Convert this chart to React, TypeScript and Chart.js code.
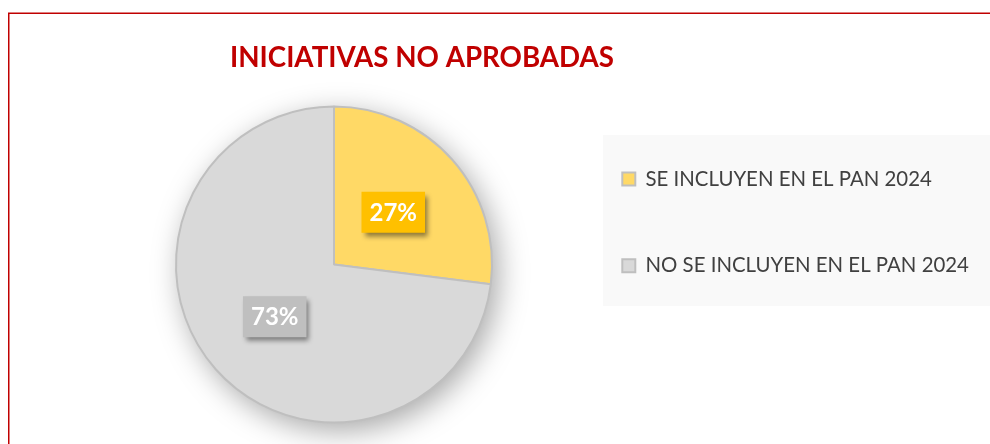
import React, { useEffect, useRef } from "react";
import { Chart, registerables } from "chart.js";

Chart.register(...registerables);

const categories = ["SE INCLUYEN EN EL PAN 2024", "NO SE INCLUYEN EN EL PAN 2024"];
const values = [27, 73];
const sliceColors = ["#FFD966", "#D9D9D9"];
const labelBoxColors = ["#FFC000", "#BFBFBF"];
const titleText = "INICIATIVAS NO APROBADAS";

const W = 990;
const H = 444;

export default function App() {
  const ref = useRef<HTMLCanvasElement | null>(null);

  useEffect(() => {
    const canvas = ref.current;
    if (!canvas) return;

    const legendFontSize = 20.4;
    const legendPad = 66.3;
    const boxW = 13;
    const mctx = document.createElement("canvas").getContext("2d")!;
    mctx.font = `normal ${legendFontSize}px Lato`;
    const textW = Math.max(...categories.map((c) => mctx.measureText(c).width));
    const legendLeft = 556;
    const legendWidth = legendPad + boxW + legendFontSize / 2 + textW + 10;
    const padRight = W - legendLeft - legendWidth;
    const pieCx = 334;
    const padLeft = 2 * pieCx - legendLeft;

    const total = values.reduce((a, b) => a + b, 0);

    const backgroundPlugin = {
      id: "bg",
      beforeDraw(chart: any) {
        const ctx = chart.ctx;
        ctx.save();
        ctx.fillStyle = "#FFFFFF";
        ctx.fillRect(0, 0, W, H);
        ctx.strokeStyle = "#C00000";
        ctx.lineWidth = 1.5;
        ctx.strokeRect(8.75, 13.25, 2000, 2000);
        ctx.fillStyle = "#F9F9F9";
        ctx.fillRect(603, 135, 387, 171);
        // title
        ctx.fillStyle = "#C00000";
        ctx.font = "bold 27.7px Lato";
        ctx.textAlign = "center";
        ctx.textBaseline = "alphabetic";
        ctx.fillText(titleText, 422, 67);
        ctx.restore();
      },
    };

    const pieShadowPlugin = {
      id: "pieShadow",
      beforeDatasetsDraw(chart: any) {
        const meta = chart.getDatasetMeta(0);
        const arc = meta.data[0];
        if (!arc) return;
        const { x, y, outerRadius } = arc.getProps(["x", "y", "outerRadius"], true);
        const ctx = chart.ctx;
        ctx.save();
        ctx.shadowColor = "rgba(0,0,0,0.35)";
        ctx.shadowBlur = 30;
        ctx.shadowOffsetX = 6;
        ctx.shadowOffsetY = 8;
        ctx.beginPath();
        ctx.arc(x, y, outerRadius, 0, Math.PI * 2);
        ctx.fillStyle = "#D9D9D9";
        ctx.fill();
        ctx.restore();
      },
    };

    const labelPlugin = {
      id: "sliceLabels",
      afterDatasetsDraw(chart: any) {
        const ctx = chart.ctx;
        const meta = chart.getDatasetMeta(0);
        meta.data.forEach((arc: any, i: number) => {
          const { x, y } = arc.tooltipPosition(true);
          const txt = Math.round((values[i] / total) * 100) + "%";
          ctx.save();
          ctx.font = "bold 24px Lato";
          const tw = ctx.measureText(txt).width;
          const bw = tw + 16;
          const bh = 41;
          ctx.shadowColor = "rgba(0,0,0,0.45)";
          ctx.shadowBlur = 5;
          ctx.shadowOffsetX = 3;
          ctx.shadowOffsetY = 4;
          ctx.fillStyle = labelBoxColors[i];
          ctx.fillRect(x - bw / 2, y - bh / 2, bw, bh);
          ctx.restore();
          ctx.save();
          ctx.font = "bold 24px Lato";
          ctx.fillStyle = "#FFFFFF";
          ctx.textAlign = "center";
          ctx.textBaseline = "middle";
          ctx.fillText(txt, x, y + 1);
          ctx.restore();
        });
      },
    };

    const chart = new Chart(canvas, {
      type: "pie",
      data: {
        labels: categories,
        datasets: [
          {
            data: values,
            backgroundColor: sliceColors,
            borderColor: "#BFBFBF",
            borderWidth: 2,
            hoverBorderWidth: 2,
            hoverOffset: 0,
            offset: 0,
            radius: "98.14%",
          },
        ],
      },
      options: {
        responsive: false,
        animation: false,
        events: [],
        layout: {
          padding: { left: padLeft, right: padRight, top: 102.5, bottom: 17.5 },
        },
        plugins: {
          title: { display: false },
          tooltip: { enabled: false },
          legend: {
            display: true,
            position: "right",
            align: "start",
            labels: {
              boxWidth: boxW,
              boxHeight: 13,
              padding: legendPad,
              color: "#404040",
              font: { family: "Lato", size: legendFontSize, weight: "normal" },
            },
          },
        },
      },
      plugins: [backgroundPlugin, pieShadowPlugin, labelPlugin],
    } as any);

    return () => chart.destroy();
  }, []);

  return (
    <div style={{ position: "absolute", left: 0, top: 0, width: W, height: H }}>
      <canvas ref={ref} width={W} height={H} style={{ display: "block" }} />
    </div>
  );
}
